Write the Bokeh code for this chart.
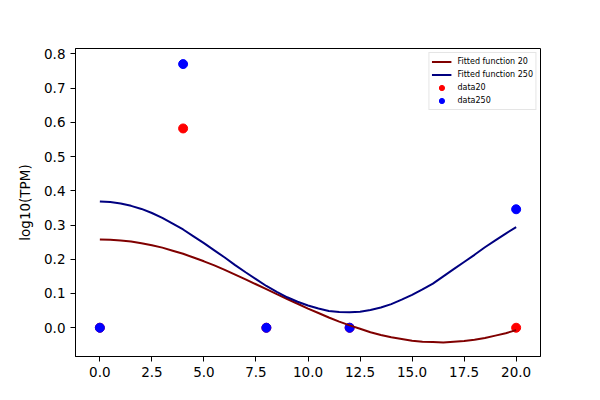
from bokeh.plotting import figure
from bokeh.models import Range1d, FixedTicker, PrintfTickFormatter, Legend, LegendItem
from bokeh.embed import file_html
from bokeh.resources import INLINE

# observed data
time_points = [0, 4, 8, 12, 20]
data20 = [0.0, 0.582, 0.0, 0.0, 0.0]
data250 = [0.0, 0.770, 0.0, 0.0, 0.346]

# fitted curves, every half unit of time
fit_x = [0, 0.5, 1, 1.5, 2, 2.5, 3, 3.5, 4, 4.5, 5, 5.5, 6, 6.5, 7, 7.5, 8, 8.5, 9, 9.5,
         10, 10.5, 11, 11.5, 12, 12.5, 13, 13.5, 14, 14.5, 15, 15.5, 16, 16.5, 17, 17.5,
         18, 18.5, 19, 19.5, 20]
fit20 = [0.258, 0.257, 0.255, 0.252, 0.247, 0.241, 0.234, 0.225, 0.216, 0.205, 0.194,
         0.182, 0.169, 0.155, 0.141, 0.127, 0.113, 0.098, 0.084, 0.070, 0.056, 0.043,
         0.030, 0.018, 0.007, -0.003, -0.013, -0.021, -0.028, -0.033, -0.038, -0.041,
         -0.042, -0.043, -0.041, -0.039, -0.035, -0.030, -0.023, -0.016, -0.007]
fit250 = [0.369, 0.367, 0.363, 0.356, 0.347, 0.335, 0.321, 0.304, 0.287, 0.267, 0.247,
          0.226, 0.205, 0.183, 0.162, 0.142, 0.122, 0.105, 0.089, 0.076, 0.065, 0.056,
          0.049, 0.046, 0.045, 0.047, 0.052, 0.059, 0.069, 0.082, 0.096, 0.112, 0.129,
          0.150, 0.171, 0.192, 0.213, 0.235, 0.255, 0.275, 0.294]

x_ticks = [0, 2.5, 5, 7.5, 10, 12.5, 15, 17.5, 20]
y_ticks = [0.0, 0.1, 0.2, 0.3, 0.4, 0.5, 0.6, 0.7, 0.8]

p = figure(width=584, height=384, output_backend="svg", toolbar_location=None,
           x_range=Range1d(-1.17, 21.17), y_range=Range1d(-0.084, 0.8155),
           min_border_left=75, min_border_right=44, min_border_top=48, min_border_bottom=28,
           background_fill_color="white", border_fill_color="white")
p.grid.visible = False
p.outline_line_color = "black"
p.outline_line_width = 1

s20 = p.scatter(time_points, data20, size=9, color="red")
s250 = p.scatter(time_points, data250, size=9, color="blue")
l20 = p.line(fit_x, fit20, line_width=2, color="#800000")
l250 = p.line(fit_x, fit250, line_width=2, color="#000080")

p.xaxis.ticker = FixedTicker(ticks=x_ticks)
p.yaxis.ticker = FixedTicker(ticks=y_ticks)
p.xaxis.formatter = PrintfTickFormatter(format="%.1f")
p.yaxis.formatter = PrintfTickFormatter(format="%.1f")
for ax in [p.xaxis[0], p.yaxis[0]]:
    ax.major_tick_in = 0
    ax.major_tick_out = 5
    ax.minor_tick_in = 0
    ax.minor_tick_out = 0
    ax.axis_line_color = "black"
    ax.major_tick_line_color = "black"
    ax.major_label_text_font = "DejaVu Sans"
    ax.major_label_text_font_size = "13.5px"
    ax.major_label_text_color = "black"
    ax.major_label_standoff = 5
    ax.axis_label_text_font = "DejaVu Sans"
    ax.axis_label_text_font_size = "13.5px"
    ax.axis_label_text_font_style = "normal"
    ax.axis_label_text_color = "black"
p.yaxis.axis_label = "log10(TPM)"
p.yaxis.axis_label_standoff = 8

legend = Legend(items=[
    LegendItem(label="Fitted function 20", renderers=[l20]),
    LegendItem(label="Fitted function 250", renderers=[l250]),
    LegendItem(label="data20", renderers=[s20]),
    LegendItem(label="data250", renderers=[s250]),
], location="top_right")
legend.margin = 4
legend.padding = 2
legend.spacing = 0
legend.glyph_width = 20
legend.glyph_height = 13
legend.label_height = 13
legend.label_standoff = 6
legend.label_text_font = "DejaVu Sans"
legend.label_text_font_size = "8px"
legend.label_text_color = "black"
legend.border_line_color = "#cccccc"
legend.border_line_width = 1
legend.background_fill_color = "white"
legend.background_fill_alpha = 0.8
p.add_layout(legend)

open("out.html", "w").write(file_html(p, INLINE))
